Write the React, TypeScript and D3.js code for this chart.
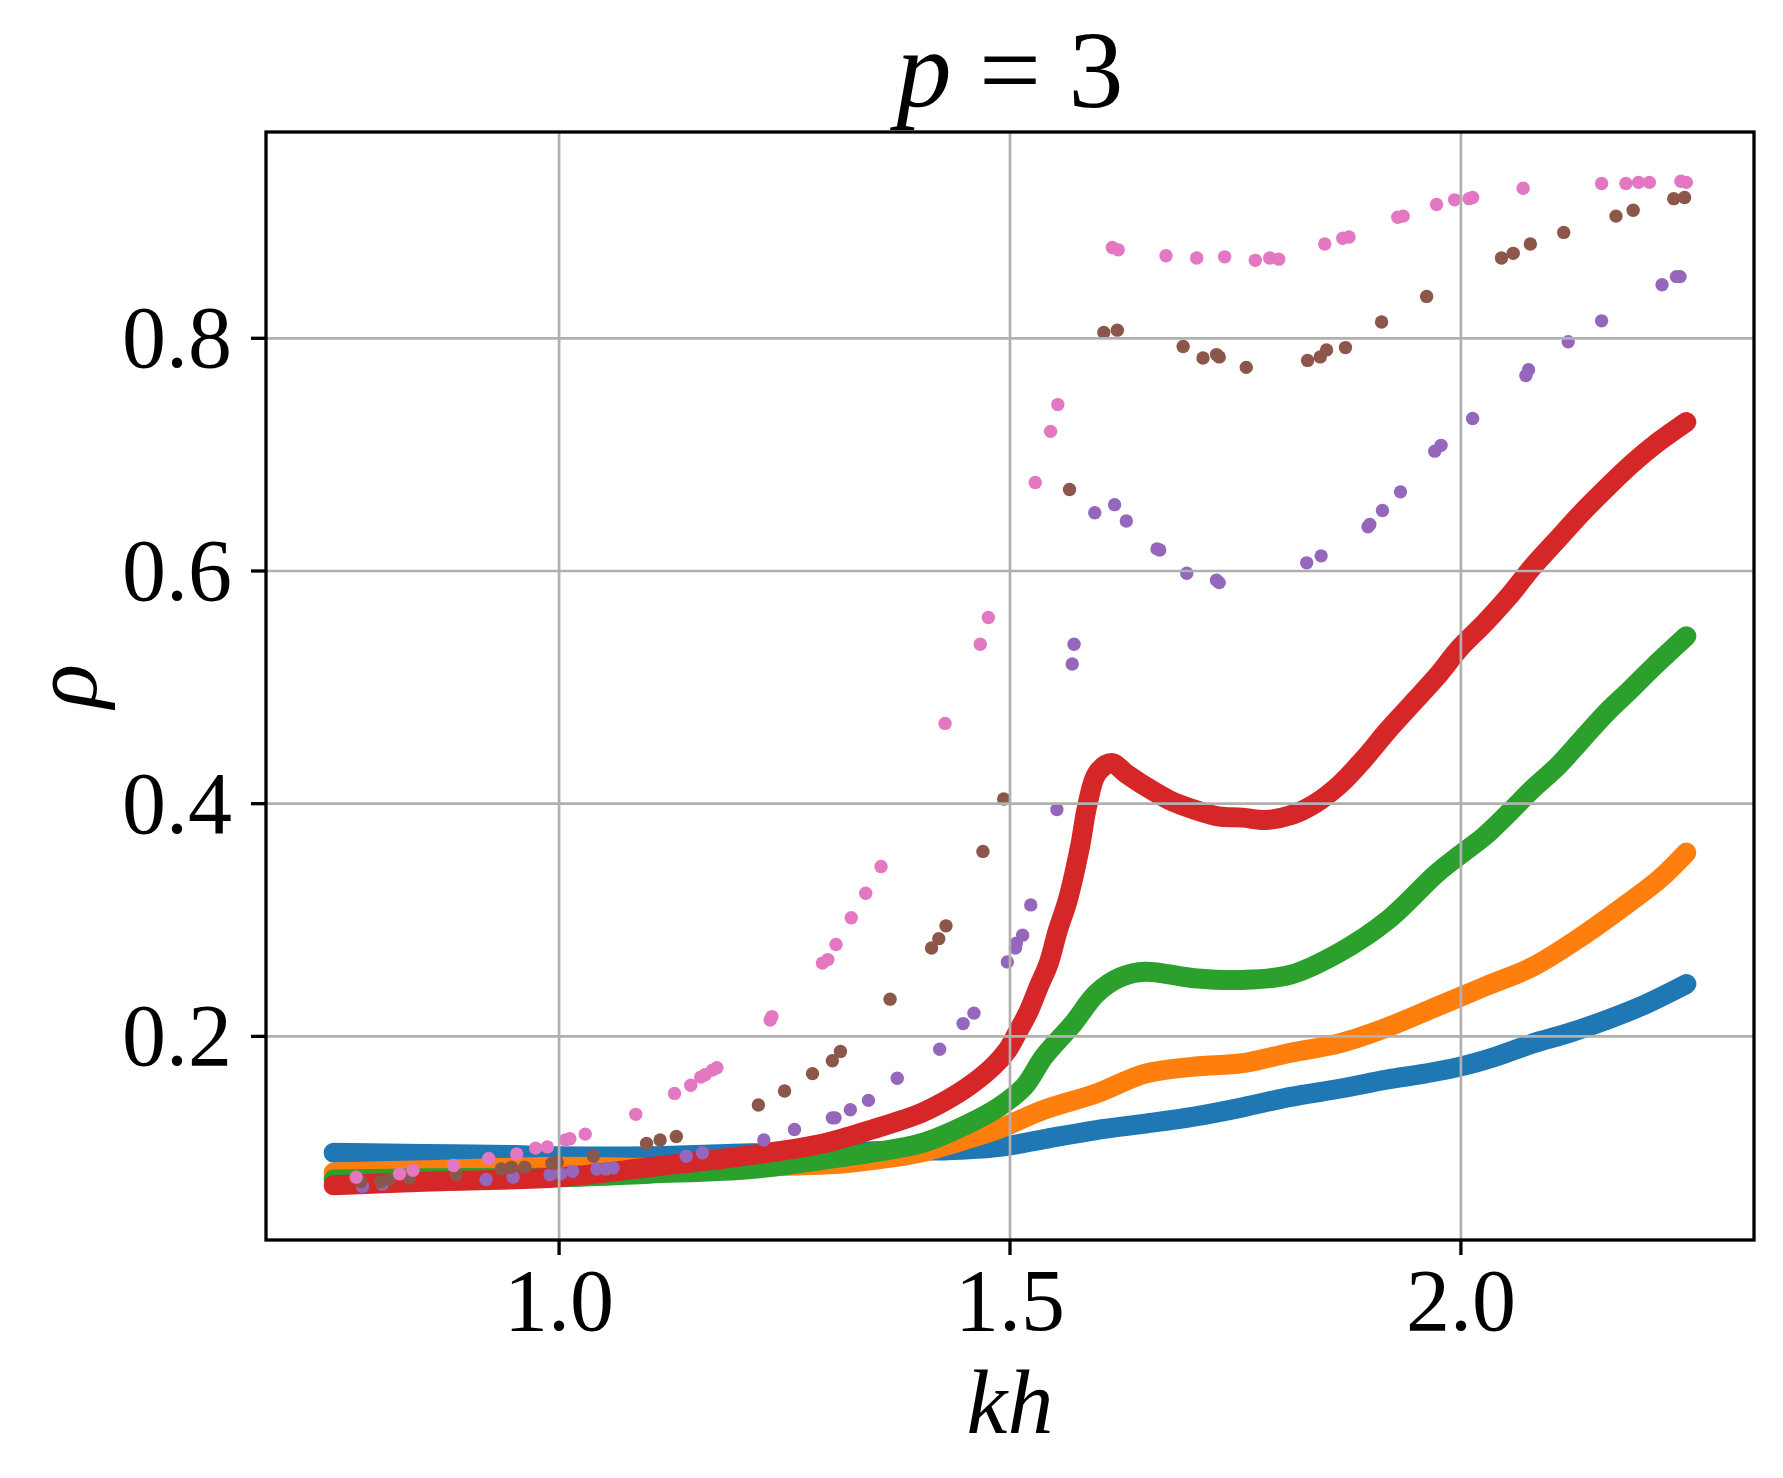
import * as d3 from "d3";

// dense series
const blueX = [0.75, 0.85, 0.95, 1.0, 1.1, 1.213, 1.3, 1.374, 1.427, 1.489, 1.54, 1.596, 1.65, 1.704, 1.758, 1.811, 1.865, 1.919, 1.96, 1.999, 2.04, 2.08, 2.12, 2.161, 2.2, 2.25];
const blueY = [0.1, 0.099, 0.098, 0.097, 0.097, 0.0995, 0.1, 0.102, 0.102, 0.105, 0.112, 0.1195, 0.125, 0.131, 0.139, 0.148, 0.155, 0.163, 0.168, 0.174, 0.183, 0.194, 0.203, 0.214, 0.226, 0.245];

const orangeX = [0.75, 0.85, 1.0, 1.1, 1.213, 1.3, 1.35, 1.4, 1.454, 1.489, 1.538, 1.596, 1.65, 1.704, 1.758, 1.811, 1.865, 1.919, 1.973, 2.027, 2.08, 2.134, 2.188, 2.22, 2.25];
const orangeY = [0.083, 0.085, 0.088, 0.087, 0.088, 0.09, 0.094, 0.1, 0.112, 0.121, 0.137, 0.151, 0.168, 0.174, 0.177, 0.186, 0.194, 0.208, 0.2255, 0.243, 0.26, 0.286, 0.316, 0.335, 0.358];

const greenX = [0.75, 0.85, 1.0, 1.1, 1.213, 1.293, 1.347, 1.401, 1.454, 1.489, 1.516, 1.538, 1.57, 1.596, 1.623, 1.65, 1.704, 1.758, 1.811, 1.865, 1.919, 1.973, 1.999, 2.026, 2.053, 2.08, 2.107, 2.134, 2.161, 2.188, 2.214, 2.25];
const greenY = [0.077, 0.078, 0.079, 0.082, 0.086, 0.094, 0.1, 0.108, 0.125, 0.14, 0.157, 0.183, 0.211, 0.237, 0.251, 0.2556, 0.25, 0.2485, 0.253, 0.272, 0.3, 0.34, 0.356, 0.372, 0.392, 0.413, 0.432, 0.455, 0.478, 0.498, 0.518, 0.544];

const redX = [0.75, 0.85, 1.0, 1.105, 1.213, 1.293, 1.347, 1.401, 1.427, 1.454, 1.481, 1.497, 1.508, 1.521, 1.532, 1.543, 1.553, 1.564, 1.5776, 1.5856, 1.5964, 1.6125, 1.6286, 1.65, 1.677, 1.704, 1.731, 1.758, 1.784, 1.811, 1.838, 1.865, 1.892, 1.919, 1.946, 1.973, 1.999, 2.026, 2.053, 2.08, 2.107, 2.134, 2.161, 2.188, 2.214, 2.25];
const redY = [0.072, 0.075, 0.079, 0.088, 0.098, 0.108, 0.12, 0.134, 0.144, 0.157, 0.174, 0.188, 0.203, 0.222, 0.243, 0.263, 0.291, 0.317, 0.363, 0.398, 0.426, 0.435, 0.426, 0.415, 0.403, 0.395, 0.389, 0.388, 0.386, 0.39, 0.4, 0.416, 0.438, 0.463, 0.486, 0.509, 0.534, 0.555, 0.578, 0.604, 0.627, 0.65, 0.671, 0.691, 0.708, 0.728];

// sparse series
const purpleX = [0.782, 0.804, 0.919, 0.949, 0.99, 1.002, 1.015, 1.042, 1.052, 1.06, 1.141, 1.159, 1.227, 1.261, 1.303, 1.306, 1.323, 1.343, 1.375, 1.422, 1.448, 1.46, 1.497, 1.506, 1.507, 1.514, 1.523, 1.552, 1.569, 1.571, 1.594, 1.616, 1.629, 1.663, 1.666, 1.696, 1.729, 1.732, 1.829, 1.845, 1.897, 1.899, 1.913, 1.933, 1.971, 1.978, 2.013, 2.072, 2.075, 2.119, 2.156, 2.223, 2.239, 2.243];
const purpleY = [0.071, 0.073, 0.077, 0.079, 0.081, 0.082, 0.084, 0.086, 0.086, 0.087, 0.097, 0.1, 0.111, 0.12, 0.13, 0.13, 0.137, 0.145, 0.164, 0.189, 0.211, 0.22, 0.264, 0.276, 0.28, 0.287, 0.313, 0.395, 0.52, 0.537, 0.65, 0.657, 0.643, 0.619, 0.618, 0.598, 0.592, 0.59, 0.607, 0.613, 0.638, 0.64, 0.652, 0.668, 0.703, 0.708, 0.731, 0.768, 0.773, 0.797, 0.815, 0.846, 0.853, 0.853];

const brownX = [0.78, 0.802, 0.812, 0.834, 0.886, 0.936, 0.947, 0.962, 0.992, 0.998, 1.038, 1.097, 1.112, 1.13, 1.221, 1.25, 1.281, 1.303, 1.312, 1.367, 1.413, 1.421, 1.429, 1.47, 1.493, 1.566, 1.604, 1.619, 1.692, 1.714, 1.729, 1.732, 1.762, 1.83, 1.844, 1.851, 1.872, 1.912, 1.962, 2.045, 2.058, 2.077, 2.114, 2.172, 2.191, 2.236, 2.248];
const brownY = [0.075, 0.075, 0.077, 0.078, 0.081, 0.086, 0.0875, 0.0875, 0.091, 0.092, 0.097, 0.108, 0.111, 0.114, 0.141, 0.153, 0.168, 0.179, 0.187, 0.232, 0.276, 0.284, 0.295, 0.359, 0.404, 0.67, 0.805, 0.807, 0.793, 0.783, 0.786, 0.784, 0.775, 0.781, 0.784, 0.79, 0.792, 0.814, 0.836, 0.869, 0.873, 0.881, 0.891, 0.905, 0.91, 0.92, 0.921];

const pinkX = [0.775, 0.823, 0.838, 0.883, 0.922, 0.953, 0.974, 0.987, 1.007, 1.012, 1.029, 1.085, 1.128, 1.146, 1.157, 1.162, 1.17, 1.175, 1.234, 1.236, 1.292, 1.298, 1.307, 1.324, 1.34, 1.357, 1.428, 1.467, 1.476, 1.528, 1.545, 1.553, 1.6135, 1.62, 1.673, 1.707, 1.738, 1.772, 1.788, 1.798, 1.849, 1.869, 1.876, 1.93, 1.936, 1.973, 1.993, 2.009, 2.013, 2.069, 2.156, 2.183, 2.197, 2.209, 2.244, 2.25];
const pinkY = [0.079, 0.082, 0.085, 0.089, 0.095, 0.099, 0.104, 0.105, 0.111, 0.112, 0.116, 0.133, 0.151, 0.158, 0.165, 0.167, 0.171, 0.173, 0.214, 0.217, 0.263, 0.266, 0.279, 0.302, 0.323, 0.346, 0.469, 0.537, 0.56, 0.676, 0.72, 0.743, 0.878, 0.876, 0.871, 0.869, 0.87, 0.867, 0.869, 0.868, 0.881, 0.886, 0.887, 0.904, 0.905, 0.915, 0.919, 0.92, 0.921, 0.929, 0.933, 0.933, 0.934, 0.934, 0.935, 0.934];

const xTicks = [1.0, 1.5, 2.0];
const yTicks = [0.2, 0.4, 0.6, 0.8];

const bands = [
    { xs: blueX, ys: blueY, color: "#1f77b4" },
    { xs: orangeX, ys: orangeY, color: "#ff7f0e" },
    { xs: greenX, ys: greenY, color: "#2ca02c" },
    { xs: redX, ys: redY, color: "#d62728" },
];
const dots = [
    { xs: purpleX, ys: purpleY, color: "#9467bd" },
    { xs: brownX, ys: brownY, color: "#8c564b" },
    { xs: pinkX, ys: pinkY, color: "#e377c2" },
];

const App = () => {
    const width = 1783;
    const height = 1478;
    const left = 266;
    const right = 1754;
    const top = 132;
    const bottom = 1240;
    const font = "'Liberation Serif', 'DejaVu Serif', serif";

    const xScale = d3.scaleLinear().domain([0.675, 2.325]).range([left, right]);
    const yScale = d3.scaleLinear().domain([0.025, 0.9773]).range([bottom, top]);

    const lineGenerator = (xs, ys) =>
        d3
            .line()
            .curve(d3.curveCatmullRom.alpha(0.5))
            .x((d) => xScale(d[0]))
            .y((d) => yScale(d[1]))(xs.map((x, i) => [x, ys[i]]));

    return (
        <svg
            width={width}
            height={height}
            style={{ position: "absolute", left: 0, top: 0, background: "#fff" }}
        >
            <rect width={width} height={height} fill="#fff" />
            {/* dense series as thick bands */}
            {bands.map((b, i) => (
                <path
                    key={"b" + i}
                    d={lineGenerator(b.xs, b.ys)}
                    stroke={b.color}
                    strokeWidth={20}
                    strokeLinecap="round"
                    strokeLinejoin="round"
                    fill="none"
                />
            ))}
            {dots.map((s, i) => (
                <g key={"s" + i}>
                    {s.xs.map((x, j) => (
                        <circle key={j} cx={xScale(x)} cy={yScale(s.ys[j])} r={6.7} fill={s.color} />
                    ))}
                </g>
            ))}
            {/* grid on top of the scatter, like matplotlib */}
            {xTicks.map((t) => (
                <line key={"gx" + t} x1={xScale(t)} x2={xScale(t)} y1={top} y2={bottom} stroke="#b0b0b0" strokeWidth={2.7} />
            ))}
            {yTicks.map((t) => (
                <line key={"gy" + t} x1={left} x2={right} y1={yScale(t)} y2={yScale(t)} stroke="#b0b0b0" strokeWidth={2.7} />
            ))}
            <rect x={left} y={top} width={right - left} height={bottom - top} fill="none" stroke="#000" strokeWidth={3.3} />
            {xTicks.map((t) => (
                <g key={"tx" + t}>
                    <line x1={xScale(t)} x2={xScale(t)} y1={bottom} y2={bottom + 15} stroke="#000" strokeWidth={3.3} />
                    <text x={xScale(t)} y={1330} textAnchor="middle" fontFamily={font} fontSize={88}>
                        {t.toFixed(1)}
                    </text>
                </g>
            ))}
            {yTicks.map((t) => (
                <g key={"ty" + t}>
                    <line x1={left - 15} x2={left} y1={yScale(t)} y2={yScale(t)} stroke="#000" strokeWidth={3.3} />
                    <text x={232} y={yScale(t) + 29} textAnchor="end" fontFamily={font} fontSize={88}>
                        {t.toFixed(1)}
                    </text>
                </g>
            ))}
            <text x={(left + right) / 2} y={107} textAnchor="middle" fontFamily={font} fontSize={110}>
                <tspan fontStyle="italic">p</tspan>
                <tspan> = 3</tspan>
            </text>
            <text x={(left + right) / 2} y={1433} textAnchor="middle" fontFamily={font} fontSize={92} fontStyle="italic">
                kh
            </text>
            <text
                transform={`translate(96, ${(top + bottom) / 2}) rotate(-90)`}
                textAnchor="middle"
                fontFamily={font}
                fontSize={92}
                fontStyle="italic"
            >
                ρ
            </text>
        </svg>
    );
};
export default App;
